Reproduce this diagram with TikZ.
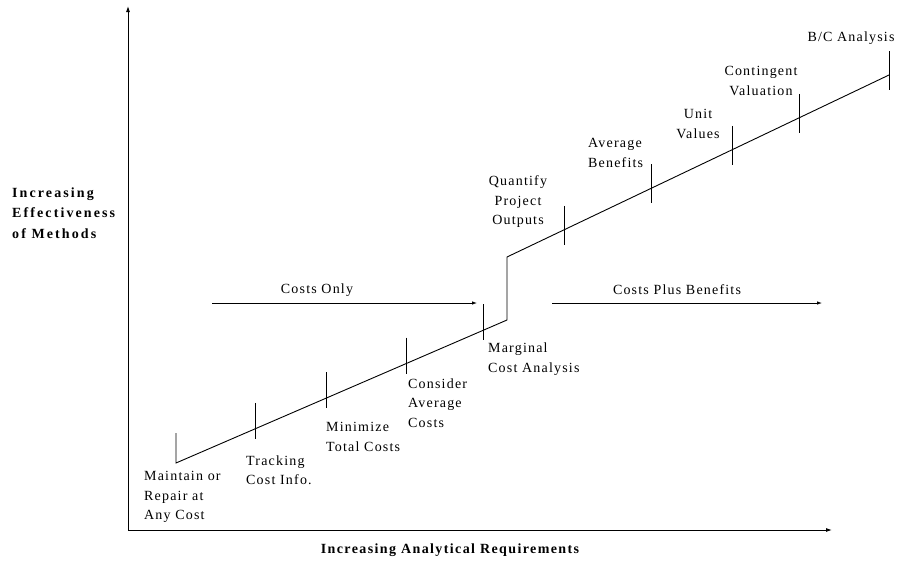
\documentclass[tikz,border=0pt]{standalone}
\usepackage{fontspec}
\setmainfont{Liberation Serif}[LetterSpace=8.5]
\usetikzlibrary{calc,arrows.meta}
\begin{document}
\begin{tikzpicture}[x=1pt,y=-1pt,
  lbl/.style={inner sep=0pt,font=\fontsize{14}{19.5}\selectfont},
  axis/.style={line width=0.9pt,-{Latex[length=6pt,width=4pt]}},
  main/.style={line width=0.9pt},
  tick/.style={line width=0.9pt},
  phase/.style={line width=0.8pt,-{Latex[length=5pt,width=3.5pt]}}]
\useasboundingbox (0,0) rectangle (899,562);
% axes
\coordinate (O) at (128,530);
\coordinate (ytop) at (128,6);
\coordinate (xend) at (832,530);
\draw[axis] (O) -- (ytop);
\draw[axis] (O) -- (xend);
% main line
\coordinate (A) at (176,463);
\coordinate (B) at (507,320);
\coordinate (C) at (507,257);
\coordinate (D) at (889,75);
\coordinate (A0) at (176,433);
\draw[main] (A0) -- (A) -- (B) -- (C) -- (D);
% ticks lower
\coordinate (t1) at ($(A)!0.2387!(B)$);
\coordinate (t2) at ($(A)!0.4532!(B)$);
\coordinate (t3) at ($(A)!0.6949!(B)$);
\coordinate (t4) at ($(A)!0.9275!(B)$);
\foreach \t in {t1,t2,t3,t4}{
  \draw[tick] ($(\t)+(0,-26)$) -- ($(\t)+(0,10)$);
}
% ticks upper
\coordinate (u1) at ($(C)!0.1492!(D)$);
\coordinate (u2) at ($(C)!0.3770!(D)$);
\coordinate (u3) at ($(C)!0.5890!(D)$);
\coordinate (u4) at ($(C)!0.7644!(D)$);
\coordinate (u5) at (D);
\foreach \t in {u1,u2,u3,u4,u5}{
  \draw[tick] ($(\t)+(0,-24)$) -- ($(\t)+(0,15)$);
}
% phase arrows
\coordinate (p1s) at (212,303);
\coordinate (p1e) at (477,303);
\coordinate (p2s) at (552,303);
\coordinate (p2e) at (822,303);
\draw[phase] (p1s) -- (p1e);
\draw[phase] (p2s) -- (p2e);
\node[lbl] (costsonly) at (317,290) {Costs Only};
\node[lbl] (costsplus) at (677,290) {Costs Plus Benefits};
% labels
\node[lbl,anchor=west,align=left] (l1) at (144,497) {Maintain or\\Repair at\\Any Cost};
\node[lbl,anchor=west,align=left] (l2) at (246,470) {Tracking\\Cost Info.};
\node[lbl,anchor=west,align=left] (l3) at (326,437) {Minimize\\Total Costs};
\node[lbl,anchor=west,align=left] (l4) at (408,403) {Consider\\Average\\Costs};
\node[lbl,anchor=west,align=left] (l5) at (488,359) {Marginal\\Cost Analysis};
\node[lbl,align=center] (l6) at (518,202) {Quantify\\Project\\Outputs};
\node[lbl,anchor=west,align=left] (l7) at (588,153) {Average\\Benefits};
\node[lbl,align=center] (l8) at (698,124) {Unit\\Values};
\node[lbl,align=center] (l9) at (761,81) {Contingent\\Valuation};
\node[lbl] (l10) at (851,38) {B/C Analysis};
% axis titles
\node[lbl,anchor=west,align=left,font=\fontsize{14}{20.5}\selectfont\bfseries\addfontfeatures{LetterSpace=15}] (ytitle) at (12,213) {Increasing\\Effectiveness\\of Methods};
\node[lbl,font=\fontsize{14}{19.5}\selectfont\bfseries\addfontfeatures{LetterSpace=10}] (xtitle) at (450,550) {Increasing Analytical Requirements};
\end{tikzpicture}
\end{document}
